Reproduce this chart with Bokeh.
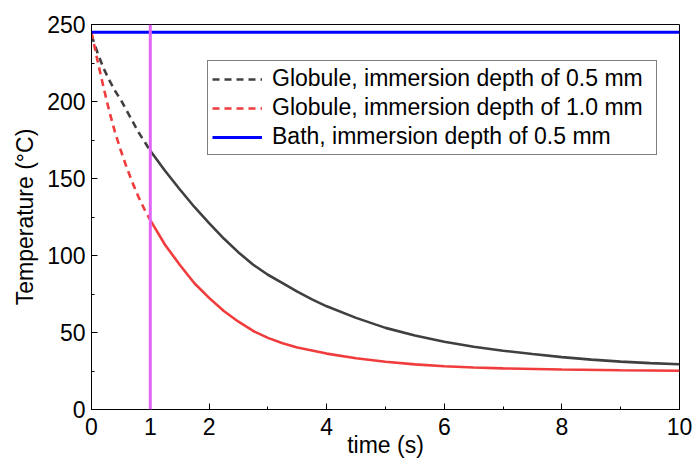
from bokeh.plotting import figure
from bokeh.models import (FixedTicker, Span, Legend, LegendItem, Range1d)
from bokeh.embed import file_html
from bokeh.resources import INLINE

# ---- data ----
black_dash_t = [0.0, 0.1, 0.2, 0.3, 0.4, 0.5, 0.6, 0.7, 0.8, 0.9, 1.0]
black_dash_T = [243, 232, 222, 214, 207, 201, 194, 187, 180, 174, 168]
black_solid_t = [1.0, 1.25, 1.5, 1.75, 2.0, 2.25, 2.5, 2.75, 3.0, 3.25, 3.5,
                 3.75, 4.0, 4.5, 5.0, 5.5, 6.0, 6.5, 7.0, 7.5, 8.0, 8.5,
                 9.0, 9.5, 10.0]
black_solid_T = [168, 155, 143, 131.5, 121, 111, 102, 94, 87.5, 82, 76.5,
                 71.5, 67, 59.5, 53, 48, 44, 40.8, 38.2, 36, 34, 32.4,
                 31.1, 30.1, 29.4]
red_dash_t = [0.0, 0.1, 0.2, 0.3, 0.4, 0.5, 0.6, 0.7, 0.8, 0.9, 1.0]
red_dash_T = [245, 227, 210, 194, 180, 168, 157, 147, 138, 130, 123]
red_solid_t = [1.0, 1.25, 1.5, 1.75, 2.0, 2.25, 2.5, 2.75, 3.0, 3.25, 3.5,
               4.0, 4.5, 5.0, 5.5, 6.0, 6.5, 7.0, 8.0, 9.0, 10.0]
red_solid_T = [123, 107, 94, 82, 72.5, 64, 57, 51, 46.5, 43, 40.3,
               36.3, 33.3, 31, 29.3, 28.1, 27.3, 26.7, 26, 25.5, 25.2]
bath_t = [0.0, 10.0]
bath_T = [245, 245]
marker_time = 1.0

x_ticks = [0, 1, 2, 4, 6, 8, 10]
x_minor = [3, 5, 7, 9]
y_ticks = [0, 50, 100, 150, 200, 250]
y_minor = [25, 75, 125, 175, 225]

x_title = "time (s)"
y_title = "Temperature (°C)"
labels = ["Globule, immersion depth of 0.5 mm",
          "Globule, immersion depth of 1.0 mm",
          "Bath, immersion depth of 0.5 mm"]

FONT = "Liberation Sans"
BLACK_C = "#404040"
RED_C = "#F03C3C"
BLUE_C = "#0000FF"
MAG_C = "#E066F6"

p = figure(width=692, height=461, output_backend="svg", toolbar_location=None,
           x_range=Range1d(0, 10), y_range=Range1d(0, 250),
           min_border_left=91, min_border_right=13, min_border_top=24,
           min_border_bottom=52)
p.xgrid.visible = False
p.ygrid.visible = False
p.outline_line_color = "black"
p.outline_line_width = 1
p.outline_line_alpha = 1
p.background_fill_color = "white"
p.border_fill_color = "white"

r_bd = p.line(black_dash_t, black_dash_T, line_color=BLACK_C, line_width=2.6,
              line_dash="7 5")
p.line(black_solid_t, black_solid_T, line_color=BLACK_C, line_width=2.6)
r_rd = p.line(red_dash_t, red_dash_T, line_color=RED_C, line_width=2.6,
              line_dash="7 5")
p.line(red_solid_t, red_solid_T, line_color=RED_C, line_width=2.6)
r_bath = p.line(bath_t, bath_T, line_color=BLUE_C, line_width=3)

p.add_layout(Span(location=marker_time, dimension="height", line_color=MAG_C,
                  line_width=3))

for ax, ticks, minor in ((p.xaxis[0], x_ticks, x_minor), (p.yaxis[0], y_ticks, y_minor)):
    ax.ticker = FixedTicker(ticks=ticks, minor_ticks=minor)
    ax.major_tick_in = 6
    ax.major_tick_out = 0
    ax.minor_tick_in = 3
    ax.minor_tick_out = 0
    ax.major_tick_line_color = "black"
    ax.minor_tick_line_color = "black"
    ax.axis_line_color = "black"
    ax.major_label_text_font = FONT
    ax.major_label_text_font_size = "23px"
    ax.major_label_text_color = "black"
    ax.axis_label_text_font = FONT
    ax.axis_label_text_font_size = "23px"
    ax.axis_label_text_font_style = "normal"
    ax.axis_label_text_color = "black"
    ax.major_label_standoff = 6

p.yaxis.axis_label = y_title
p.yaxis.axis_label_standoff = 6

p.xaxis.axis_label = x_title
p.xaxis.major_label_standoff = 8
p.xaxis.axis_label_standoff = -6
p.xaxis.axis_label_text_baseline = "middle"

legend = Legend(items=[LegendItem(label=labels[0], renderers=[r_bd]),
                       LegendItem(label=labels[1], renderers=[r_rd]),
                       LegendItem(label=labels[2], renderers=[r_bath])],
                location=(116, 254))
legend.label_text_font = FONT
legend.label_text_font_size = "23px"
legend.label_text_color = "black"
legend.glyph_width = 50
legend.glyph_height = 26
legend.label_standoff = 10
legend.label_height = 26
legend.label_width = 380
legend.spacing = 2
legend.padding = 4
legend.margin = 0
legend.border_line_color = "black"
legend.border_line_width = 1
legend.background_fill_color = "white"
legend.background_fill_alpha = 1
p.add_layout(legend, "center")

open("out.html", "w").write(file_html(p, INLINE))
